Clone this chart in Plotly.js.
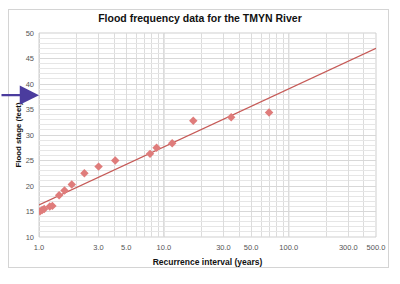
<!DOCTYPE html>
<html>
<head>
<meta charset="utf-8">
<script src="https://cdn.plot.ly/plotly-3.0.1.min.js"></script>
<style>
  html, body { margin: 0; padding: 0; background: #ffffff; }
  #wrap { position: relative; width: 400px; height: 284px; }
  #frame { position: absolute; left: 8px; top: 9px; width: 379px; height: 257px; border: 1px solid #d4d4d4; }
  #chart { position: absolute; left: 0; top: 0; width: 400px; height: 284px; }
</style>
</head>
<body>
<div id="wrap">
  <div id="frame"></div>
  <div id="chart"></div>
</div>
<script>
// Observed floods: recurrence interval (years) and flood stage (feet)
const recurrence = [1.02, 1.06, 1.10, 1.22, 1.28, 1.45, 1.60, 1.83, 2.31, 3.0, 4.08, 7.75, 8.74, 11.66, 17.2, 34.6, 69.6];
const stage      = [15.05, 15.3, 15.5, 16.0, 16.1, 18.2, 19.1, 20.3, 22.5, 23.8, 25.0, 26.3, 27.5, 28.4, 32.8, 33.5, 34.4];

// Fitted trend line end points
const fitX = [1, 500];
const fitY = [16.3, 47.0];

// Stage marked with the arrow on the left
const markedStage = 37.8;

// Axis ticks
const xTickVals = [1, 3, 5, 10, 30, 50, 100, 300, 500];
const xTickText = ['1.0', '3.0', '5.0', '10.0', '30.0', '50.0', '100.0', '300.0', '500.0'];
const xMinorVals = [2, 4, 6, 7, 8, 9, 20, 40, 60, 70, 80, 90, 200, 400];
const decades = [1, 10, 100];

const font = '"Liberation Sans", Arial, sans-serif';
const redLine = '#c65a57';
const redMark = '#df7c7b';

const traces = [
  {
    x: fitX, y: fitY, mode: 'lines', type: 'scatter',
    line: { color: redLine, width: 1.3 }, hoverinfo: 'skip', showlegend: false
  },
  {
    x: recurrence, y: stage, mode: 'markers', type: 'scatter',
    marker: { symbol: 'diamond', size: 6.5, color: redMark }, showlegend: false
  }
];

const layout = {
  width: 400, height: 284,
  paper_bgcolor: 'rgba(0,0,0,0)', plot_bgcolor: 'rgba(0,0,0,0)',
  margin: { l: 39, r: 24, t: 33, b: 47 },
  font: { family: font, size: 8, color: '#555555' },
  title: {
    text: 'Flood frequency data for the TMYN River',
    font: { family: font, size: 10.5, color: '#111111', weight: 'bold' },
    x: 0.5, xanchor: 'center', y: 0.935, yanchor: 'middle'
  },
  xaxis: {
    type: 'log', range: [0, Math.log10(500)],
    tickmode: 'array', tickvals: xTickVals, ticktext: xTickText,
    ticks: '', showline: false, zeroline: false,
    showgrid: true, gridcolor: '#dcdcdc', gridwidth: 1,
    minor: { tickmode: 'array', tickvals: xMinorVals, showgrid: true, gridcolor: '#dcdcdc', gridwidth: 1, ticks: '' },
    tickfont: { family: font, size: 7.5, color: '#555555' },
    ticklabelstandoff: 4,
    title: {
      text: 'Recurrence interval (years)',
      font: { family: font, size: 8.5, color: '#111111', weight: 'bold' },
      standoff: 8
    }
  },
  yaxis: {
    range: [10, 50], dtick: 5, tick0: 10,
    ticks: '', showline: false, zeroline: false,
    showgrid: true, gridcolor: '#d8d8d8', gridwidth: 1,
    minor: { dtick: 1, showgrid: true, gridcolor: '#e6e6e6', gridwidth: 1, ticks: '' },
    tickfont: { family: font, size: 7.5, color: '#555555' },
    ticklabelstandoff: 4,
    title: {
      text: 'Flood stage (feet)',
      font: { family: font, size: 7.8, color: '#111111', weight: 'bold' },
      standoff: 2
    }
  },
  shapes: decades.map(d => ({
    type: 'line', xref: 'x', yref: 'paper', x0: d, x1: d, y0: 0, y1: 1,
    line: { color: '#b8b8b8', width: 1 }, layer: 'below'
  })).concat([
    { type: 'rect', xref: 'paper', yref: 'paper', x0: 0, x1: 1, y0: 0, y1: 1,
      line: { color: '#cfcfcf', width: 1 }, layer: 'below' }
  ]),
  annotations: [
    {
      x: 0, y: markedStage, xref: 'x', yref: 'y',
      ax: -40, ay: 0, axref: 'pixel', ayref: 'pixel',
      showarrow: true, text: '', arrowhead: 2, arrowsize: 1.75, arrowwidth: 2.2,
      arrowcolor: '#4b3c9e', standoff: 0
    }
  ]
};

Plotly.newPlot('chart', traces, layout, { displayModeBar: false, staticPlot: true });
</script>
</body>
</html>
